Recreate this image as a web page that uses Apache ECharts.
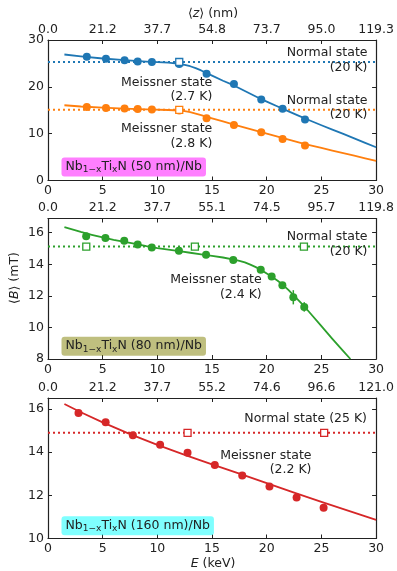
<!DOCTYPE html>
<html>
<head>
<meta charset="utf-8">
<script src="https://cdn.jsdelivr.net/npm/echarts@6/dist/echarts.min.js"></script>
<style>html,body{margin:0;padding:0;background:#fff}#c{width:397px;height:571px}</style>
</head>
<body>
<div id="c"></div>
<script>
// ---- tick labels ----
const eTicks = [0, 5, 10, 15, 20, 25, 30];
const zTop50 = ['0.0','21.2','37.7','54.8','73.7','95.0','119.3'];
const zTop80 = ['0.0','21.2','37.7','55.1','74.5','95.7','119.8'];
const zTop160 = ['0.0','21.2','37.7','55.2','74.6','96.6','121.0'];

// ---- panel 1: 50 nm ----
const e50 = [3.55, 5.3, 7.0, 8.2, 9.5, 12.0, 14.5, 17.0, 19.5, 21.45, 23.5];
const b50_27K = [26.4, 26.0, 25.7, 25.4, 25.3, 24.9, 22.8, 20.6, 17.3, 15.3, 13.0];
const b50_28K = [15.7, 15.5, 15.35, 15.25, 15.14, 14.95, 13.3, 11.86, 10.3, 8.86, 7.5];
const e50Normal = [12.0];
const b50Normal_blue = [25.3];
const b50Normal_orange = [15.1];
const normal50_blue = 25.3;
const normal50_orange = 15.1;
const fitE50 = [1.5, 3, 5, 7, 9, 11, 12, 12.5, 13, 13.5, 14, 15, 16, 17, 18, 19, 20, 21, 22, 23, 24, 25, 26, 27, 28, 29, 30];
const fit50_27K = [26.9, 26.5, 26.05, 25.7, 25.4, 25.15, 24.9, 24.7, 24.4, 24.0, 23.5, 22.4, 21.3, 20.3, 19.1, 17.95, 16.85, 15.8, 14.75, 13.75, 12.75, 11.8, 10.85, 9.95, 9.0, 8.05, 7.1];
const fit50_28K = [16.07, 15.8, 15.55, 15.35, 15.2, 15.05, 14.95, 14.8, 14.6, 14.3, 13.95, 13.25, 12.6, 11.95, 11.3, 10.65, 10.0, 9.35, 8.75, 8.1, 7.5, 6.95, 6.4, 5.85, 5.3, 4.75, 4.2];

// ---- panel 2: 80 nm ----
const e80 = [3.49, 5.25, 6.97, 8.2, 9.49, 11.97, 14.45, 16.94, 19.45, 20.45, 21.43, 22.43, 23.43];
const b80_24K = [15.78, 15.66, 15.49, 15.26, 15.07, 14.86, 14.61, 14.27, 13.66, 13.22, 12.67, 11.91, 11.3];
const b80_err = [0, 0, 0, 0, 0, 0, 0, 0, 0, 0, 0, 0.45, 0.3];
const e80Normal = [3.5, 13.43, 23.4];
const b80Normal = [15.12, 15.12, 15.12];
const normal80 = 15.12;
const fitE80 = [1.5, 3, 4, 5, 6, 7, 8, 9, 10, 11, 12, 13, 14, 15, 16, 17, 17.5, 18, 18.5, 19, 19.5, 20, 20.5, 21, 21.5, 22, 22.5, 23, 23.5, 24, 25, 26, 27, 27.65];
const fit80_24K = [16.35, 16.05, 15.87, 15.7, 15.55, 15.42, 15.29, 15.15, 15.03, 14.93, 14.83, 14.73, 14.63, 14.53, 14.43, 14.3, 14.22, 14.12, 13.98, 13.82, 13.63, 13.42, 13.2, 12.96, 12.68, 12.36, 12.0, 11.65, 11.28, 10.88, 10.08, 9.28, 8.5, 8.0];

// ---- panel 3: 160 nm ----
const e160 = [2.79, 5.27, 7.76, 10.25, 12.76, 15.25, 17.76, 20.25, 22.73, 25.2];
const b160_22K = [15.81, 15.38, 14.78, 14.34, 13.97, 13.40, 12.92, 12.41, 11.90, 11.42];
const e160Normal = [12.76, 25.25];
const b160Normal = [14.89, 14.89];
const normal160 = 14.89;
const fitE160 = [1.5, 3, 5, 7.5, 10, 12.5, 15, 17.5, 20, 22.5, 25, 27.5, 30];
const fit160_22K = [16.22, 15.84, 15.37, 14.83, 14.33, 13.87, 13.43, 13.0, 12.56, 12.12, 11.69, 11.28, 10.86];

// ---- styling ----
const C = {blue:'#1f77b4', orange:'#ff7f0e', green:'#2ca02c', red:'#d62728'};
const INK = '#222';
const FONT = 'DejaVu Sans';
const FS = 12.5;
const zip = (a, b) => a.map((v, i) => [v, b[i]]);

const grids = [
  {left: 48, width: 330, top: 40, height: 140.5},
  {left: 48, width: 330, top: 218.5, height: 140.5},
  {left: 48, width: 330, top: 398, height: 140.5}
];
const yRanges = [{min:0, max:30, interval:10}, {min:8, max:16.9, interval:2}, {min:10, max:16.5, interval:2}];
const topLabels = [zTop50, zTop80, zTop160];

const axisBase = () => ({
  axisLine: {show: true, onZero: false, lineStyle: {color: INK, width: 1.2}},
  axisTick: {show: true, inside: true, length: 4, lineStyle: {color: INK, width: 1}},
  axisLabel: {color: INK, fontSize: FS, fontFamily: FONT, margin: 4},
  splitLine: {show: false}
});

const xAxes = [], yAxes = [];
grids.forEach((g, i) => {
  xAxes.push(Object.assign(axisBase(), {type:'value', gridIndex:i, position:'bottom', min:0, max:30, interval:5}));
  const top = Object.assign(axisBase(), {type:'value', gridIndex:i, position:'top', min:0, max:30, interval:5});
  top.axisLabel.formatter = v => topLabels[i][eTicks.indexOf(v)] ?? '';
  xAxes.push(top);
  const yl = Object.assign(axisBase(), {type:'value', gridIndex:i, position:'left'}, yRanges[i]);
  yl.axisLabel.showMaxLabel = (i === 0);
  yAxes.push(yl);
  const yr = Object.assign(axisBase(), {type:'value', gridIndex:i, position:'right'}, yRanges[i]);
  yr.axisLabel = {show: false};
  yAxes.push(yr);
});

function dotted(gi, y, color) {
  return {type:'line', xAxisIndex:2*gi, yAxisIndex:2*gi, data:[[0, y],[30, y]], symbol:'none', silent:true,
    lineStyle:{color, width:2, type:[2, 3]}, z:1};
}
function fit(gi, xs, ys, color) {
  return {type:'line', xAxisIndex:2*gi, yAxisIndex:2*gi, data:zip(xs, ys), showSymbol:false, symbol:'none',
    smooth:false, lineStyle:{color, width:1.8, join:'round'}, z:2};
}
function dots(gi, xs, ys, color) {
  return {type:'scatter', xAxisIndex:2*gi, yAxisIndex:2*gi, data:zip(xs, ys), symbol:'circle', symbolSize:8,
    itemStyle:{color, opacity:1}, z:3};
}
function squares(gi, xs, ys, color) {
  return {type:'scatter', xAxisIndex:2*gi, yAxisIndex:2*gi, data:zip(xs, ys), symbol:'rect', symbolSize:7,
    itemStyle:{color:'#fff', borderColor:color, borderWidth:1.3, opacity:1}, z:4};
}

const series = [
  dotted(0, normal50_blue, C.blue), dotted(0, normal50_orange, C.orange),
  fit(0, fitE50, fit50_27K, C.blue), fit(0, fitE50, fit50_28K, C.orange),
  dots(0, e50, b50_27K, C.blue), dots(0, e50, b50_28K, C.orange),
  squares(0, e50Normal, b50Normal_blue, C.blue), squares(0, e50Normal, b50Normal_orange, C.orange),

  dotted(1, normal80, C.green),
  fit(1, fitE80, fit80_24K, C.green),
  {type:'custom', xAxisIndex:2, yAxisIndex:2, z:3,
   data: e80.map((x, i) => [x, b80_24K[i], b80_err[i]]),
   renderItem: (p, api) => {
     const x = api.value(0), y = api.value(1), e = api.value(2);
     const a = api.coord([x, y - e]), b = api.coord([x, y + e]);
     return {type:'line', shape:{x1:a[0], y1:a[1], x2:b[0], y2:b[1]}, style:{stroke:C.green, lineWidth:1.5}};
   }},
  dots(1, e80, b80_24K, C.green),
  squares(1, e80Normal, b80Normal, C.green),

  dotted(2, normal160, C.red),
  fit(2, fitE160, fit160_22K, C.red),
  dots(2, e160, b160_22K, C.red),
  squares(2, e160Normal, b160Normal, C.red)
];

function txt(x, y, text, align, extra) {
  return Object.assign({type:'text', x, y, z:100, silent:true,
    style: {text, fill: INK, font: FS + 'px "' + FONT + '"', fontSize: FS, fontFamily: FONT,
      align, textAlign: align, verticalAlign:'middle', textVerticalAlign:'middle', lineHeight: 14.6}}, extra || {});
}
function boxLabel(x, y, thick, bg) {
  const base = {fontSize: FS, fontFamily: FONT, fill: INK, lineHeight: 15, verticalAlign:'middle'};
  const sub = {fontSize: 9, fontFamily: FONT, fill: INK, lineHeight: 9, verticalAlign:'bottom'};
  return {type:'text', x, y, z:100, silent:true,
    style: {text: '{n|Nb}{s|1\u2212x}{n|Ti}{s|x}{n|N (' + thick + ')/Nb}',
      rich: {n: base, s: sub}, align:'left', verticalAlign:'middle', textVerticalAlign:'middle',
      backgroundColor: bg, padding:[2, 4, 2, 4], borderRadius: 3}};
}
const italic = {fontSize: FS, fontFamily: FONT, fontStyle:'italic', fill: INK};

const graphic = [
  // panel 1
  txt(367.5, 60.5, 'Normal state\n(20 K)', 'right'),
  txt(212.3, 89.8, 'Meissner state\n(2.7 K)', 'right'),
  txt(367.5, 107.8, 'Normal state\n(20 K)', 'right'),
  txt(212.3, 136.2, 'Meissner state\n(2.8 K)', 'right'),
  boxLabel(61.5, 167, '50 nm', 'rgba(255,0,255,0.5)'),
  // panel 2
  txt(367.5, 244.5, 'Normal state\n(20 K)', 'right'),
  txt(261.7, 287.5, 'Meissner state\n(2.4 K)', 'right'),
  boxLabel(61.5, 346.2, '80 nm', 'rgba(128,128,0,0.5)'),
  // panel 3
  txt(367, 419, 'Normal state (25 K)', 'right'),
  txt(311.5, 462.7, 'Meissner state\n(2.2 K)', 'right'),
  boxLabel(61.5, 525.8, '160 nm', 'rgba(0,255,255,0.5)'),
  // axis titles
  {type:'text', x:213, y:14, silent:true, style:{text:'\u27E8{i|z}\u27E9 (nm)', rich:{i: italic}, fontSize:FS, fontFamily:FONT, fill:INK,
    align:'center', verticalAlign:'middle', textAlign:'center', textVerticalAlign:'middle'}},
  {type:'text', x:213, y:564, silent:true, style:{text:'{i|E} (keV)', rich:{i: italic}, fontSize:FS, fontFamily:FONT, fill:INK,
    align:'center', verticalAlign:'middle', textAlign:'center', textVerticalAlign:'middle'}},
  {type:'text', x:15, y:278, rotation: Math.PI/2, silent:true, style:{text:'\u27E8{i|B}\u27E9 (mT)', rich:{i: italic}, fontSize:FS, fontFamily:FONT, fill:INK,
    align:'center', verticalAlign:'middle', textAlign:'center', textVerticalAlign:'middle'}}
];

const chart = echarts.init(document.getElementById('c'), null, {renderer:'canvas'});
chart.setOption({
  animation: false,
  backgroundColor: '#fff',
  textStyle: {fontFamily: FONT},
  grid: grids,
  xAxis: xAxes,
  yAxis: yAxes,
  series,
  graphic
});
</script>
</body>
</html>
